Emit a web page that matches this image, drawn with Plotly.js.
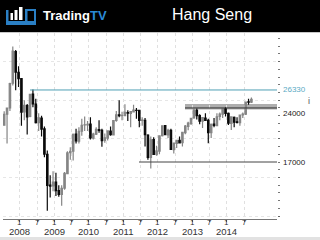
<!DOCTYPE html>
<html><head><meta charset="utf-8">
<script src="https://cdn.plot.ly/plotly-3.0.1.min.js"></script>
<style>html,body{margin:0;padding:0;background:#fff;}#c{width:320px;height:240px;}</style>
</head><body><div id="c"></div>
<script>
// Monthly candles, Jul 2007 .. Sep 2014 (month index 0 = Jan 2008)
const startMonth = -6;
const opens = [21773,23200,24000,27200,31300,28600,
 27800,23500,24300,22900,25800,24500,22100,22700,21300,18000,14000,13900,
 14400,13300,12800,13600,15500,18200,18400,20600,19700,21000,21800,21800,
 21900,20100,20600,21200,21100,19800,20100,21000,20500,22400,23100,23000,
 23000,23400,23300,23500,23700,23700,22400,22400,20500,17600,19900,18000,
 18400,20400,21700,20500,21100,18600,19400,19800,19500,20800,21600,22000,
 22700,23700,23000,22300,22700,22400,20800,21900,21700,22900,23200,23900,
 23300,22000,22800,22200,22100,23100,23200,24800,24750];
const highs = [23590,24000,27254,31958,31500,29400,
 27853,25000,24500,25800,26387,25200,23300,23000,21600,18500,15300,15800,
 15600,14000,14000,15700,18400,18900,20700,21300,21500,22600,22900,22300,
 22800,20800,21500,22400,21300,20700,21100,21600,22400,23600,24988,23500,
 24468,23700,23600,24400,24000,23700,22800,22700,20600,20300,20200,19100,
 20400,21700,21800,21300,21300,19500,19800,20300,20900,21800,22200,22700,
 23900,23944,23200,22800,23300,22600,22000,22700,23300,23400,23900,24100,
 23400,22900,22900,22800,23100,23400,24800,25200,25362];
const lows = [21700,19386,23600,26900,26300,26700,
 21709,22400,20572,22800,24100,22000,21000,20300,17600,10676,12400,13200,
 12600,12500,11344,13400,15400,17300,17200,19400,19400,20400,21000,21000,
 19900,19900,20500,20800,18971,19500,19800,20400,20500,22200,22800,22400,
 23000,22300,21500,23400,22600,21500,21700,19000,17300,16170,17900,17800,
 18000,20300,20500,20100,18600,18100,18800,19500,19000,20600,21100,21800,
 22600,22500,21900,21400,22300,19426,20100,21500,21700,22400,22700,22900,
 21800,21137,21500,22000,21700,22700,23100,24400,24650];
const closes = [23184,23984,27142,31352,28643,27812,
 23455,24331,22849,25755,24533,22102,22731,21261,18016,13968,13888,14387,
 13278,12811,13576,15520,18171,18378,20573,19724,20955,21752,21821,21872,
 20122,20608,21239,21108,19765,20128,21029,20536,22358,23096,23007,23035,
 23447,23338,23527,23720,23684,22398,22440,20534,17592,19864,17989,18434,
 20390,21680,20556,21094,18629,19441,19796,19482,20840,21641,22030,22657,
 23729,23020,22300,22737,22392,20803,21883,21731,22859,23206,23881,23306,
 22035,22837,22151,22134,23082,23191,24757,24742,25100];

// Reference levels (value, start month)
const levelValues = [26330, 24000, 17000];
const levelStarts = [3.5, 57.4, 41.4];
const levelLabels = ['26330', '24000', '17000'];
const bandRange = [23800, 24500];

// Axis labels
const years = ['2008','2009','2010','2011','2012','2013','2014'];
const monthTicks = [];
const monthText = [];
for (let y = 0; y < years.length; y++) {
  monthTicks.push(y*12); monthText.push('1');
  monthTicks.push(y*12+6); monthText.push('7');
}

const xs = opens.map((_, i) => startMonth + i + 0.5);

const trace = {
  type: 'candlestick', x: xs, open: opens, high: highs, low: lows, close: closes,
  increasing: {line: {color: '#858585', width: 1.2}, fillcolor: '#858585'},
  decreasing: {line: {color: '#0a0a0a', width: 1.2}, fillcolor: '#0a0a0a'},
  whiskerwidth: 0, hoverinfo: 'none', showlegend: false
};

const H = 186, W = 274; // plot size in px
const px = v => (v - 3) / W;      // pixel x -> paper
const py = v => (219 - v) / H;    // pixel y -> paper

const shapes = [
  // header
  {type:'rect', xref:'paper', yref:'paper', x0:px(0), x1:px(320), y0:py(32), y1:py(0), fillcolor:'#000', line:{width:0}, layer:'above'},
  {type:'line', xref:'paper', yref:'paper', x0:px(0), x1:px(320), y0:py(32.5), y1:py(32.5), line:{color:'#c8c8c8', width:1}},
  // footer strip
  {type:'rect', xref:'paper', yref:'paper', x0:px(0), x1:px(320), y0:py(240), y1:py(237), fillcolor:'#e2e2e2', line:{width:0}},
  // logo
  {type:'rect', xref:'paper', yref:'paper', x0:px(6), x1:px(36), y0:py(25), y1:py(21), fillcolor:'#2a7fc4', line:{width:0}, layer:'above'},
  {type:'rect', xref:'paper', yref:'paper', x0:px(6), x1:px(8.5), y0:py(23), y1:py(10), fillcolor:'#2a7fc4', line:{width:0}, layer:'above'},
  {type:'rect', xref:'paper', yref:'paper', x0:px(25), x1:px(36), y0:py(23), y1:py(9), fillcolor:'#2a7fc4', line:{width:0}, layer:'above'},
  {type:'rect', xref:'paper', yref:'paper', x0:px(27.5), x1:px(34), y0:py(21), y1:py(11), fillcolor:'#000', line:{width:0}, layer:'above'},
  {type:'rect', xref:'paper', yref:'paper', x0:px(10.5), x1:px(13), y0:py(20), y1:py(13), fillcolor:'#fff', line:{width:0}, layer:'above'},
  {type:'rect', xref:'paper', yref:'paper', x0:px(14.5), x1:px(17.5), y0:py(20), y1:py(10), fillcolor:'#fff', line:{width:0}, layer:'above'},
  {type:'rect', xref:'paper', yref:'paper', x0:px(19), x1:px(22.5), y0:py(20), y1:py(7), fillcolor:'#fff', line:{width:0}, layer:'above'},
  // band + levels
  {type:'rect', xref:'x', yref:'y', x0:levelStarts[1], x1:89.4, y0:bandRange[0], y1:bandRange[1], fillcolor:'#9a9a9a', opacity:0.8, line:{width:0}, layer:'below'},
  {type:'line', xref:'x', yref:'y', x0:levelStarts[0], x1:89.4, y0:levelValues[0], y1:levelValues[0], line:{color:'#4f9fb4', width:1}},
  {type:'line', xref:'x', yref:'y', x0:levelStarts[1], x1:89.4, y0:levelValues[1], y1:levelValues[1], line:{color:'#333', width:1}},
  {type:'line', xref:'x', yref:'y', x0:levelStarts[2], x1:89.4, y0:levelValues[2], y1:levelValues[2], line:{color:'#444', width:1}}
];

const F = 'Liberation Sans, Arial, sans-serif';
const annotations = [
  {xref:'paper', yref:'paper', x:px(41), y:py(15), xanchor:'left', yanchor:'middle', showarrow:false,
   text:'<b>Trading<span style="color:#2a8ad6">TV</span></b>', font:{family:F, size:13, color:'#fff'}},
  {xref:'paper', yref:'paper', x:px(212), y:py(14.5), xanchor:'center', yanchor:'middle', showarrow:false,
   text:'Hang Seng', font:{family:F, size:16, color:'#fff'}},
  {xref:'paper', yref:'paper', x:px(309), y:py(101), xanchor:'center', yanchor:'middle', showarrow:false,
   text:'i', font:{family:F, size:9, color:'#555'}}
];
const labelColors = ['#5aaac4', '#222', '#222'];
const labelShift = [0, -6, 0];
levelValues.forEach((v, i) => annotations.push({
  xref:'paper', yref:'y', x:1, y:v, xanchor:'left', yanchor:'middle', xshift:4, yshift:labelShift[i],
  showarrow:false, text:levelLabels[i], font:{family:F, size:8, color:labelColors[i]}
}));
monthTicks.forEach((m, i) => annotations.push({
  xref:'x', yref:'paper', x:m, y:py(222), xanchor:'center', yanchor:'middle', showarrow:false,
  borderpad:0, text:monthText[i], font:{family:F, size:8, color:'#333'}
}));
years.forEach((t, i) => annotations.push({
  xref:'x', yref:'paper', x:i*12, y:py(231), xanchor:'center', yanchor:'middle', showarrow:false,
  borderpad:0, text:t, font:{family:F, size:9.5, color:'#333'}
}));

const layout = {
  width: 320, height: 240,
  margin: {l:3, r:43, t:33, b:21, pad:0},
  paper_bgcolor: '#fff', plot_bgcolor: '#fff',
  showlegend: false,
  xaxis: {
    range: [-5.91, 89.4], rangeslider: {visible: false},
    tickmode: 'array', tickvals: monthTicks, showticklabels: false,
    ticks: 'outside', ticklen: 2, tickcolor: '#666',
    showline: true, linecolor: '#777', linewidth: 1,
    showgrid: true, gridcolor: '#e0e0e0', griddash: 'dot', gridwidth: 1,
    zeroline: false, fixedrange: true
  },
  yaxis: {
    range: [9617, 33710], side: 'right',
    tick0: 0, dtick: 5000, showticklabels: false,
    ticks: 'outside', ticklen: 2, tickcolor: '#666',
    minor: {dtick: 1000, ticks: 'outside', ticklen: 2, tickcolor: '#777', showgrid: false},
    showline: false, showgrid: true, gridcolor: '#e6e6e6', griddash: 'dot',
    zeroline: false, fixedrange: true
  },
  shapes: shapes,
  annotations: annotations
};

Plotly.newPlot('c', [trace], layout, {staticPlot: true, displayModeBar: false});
</script></body></html>
